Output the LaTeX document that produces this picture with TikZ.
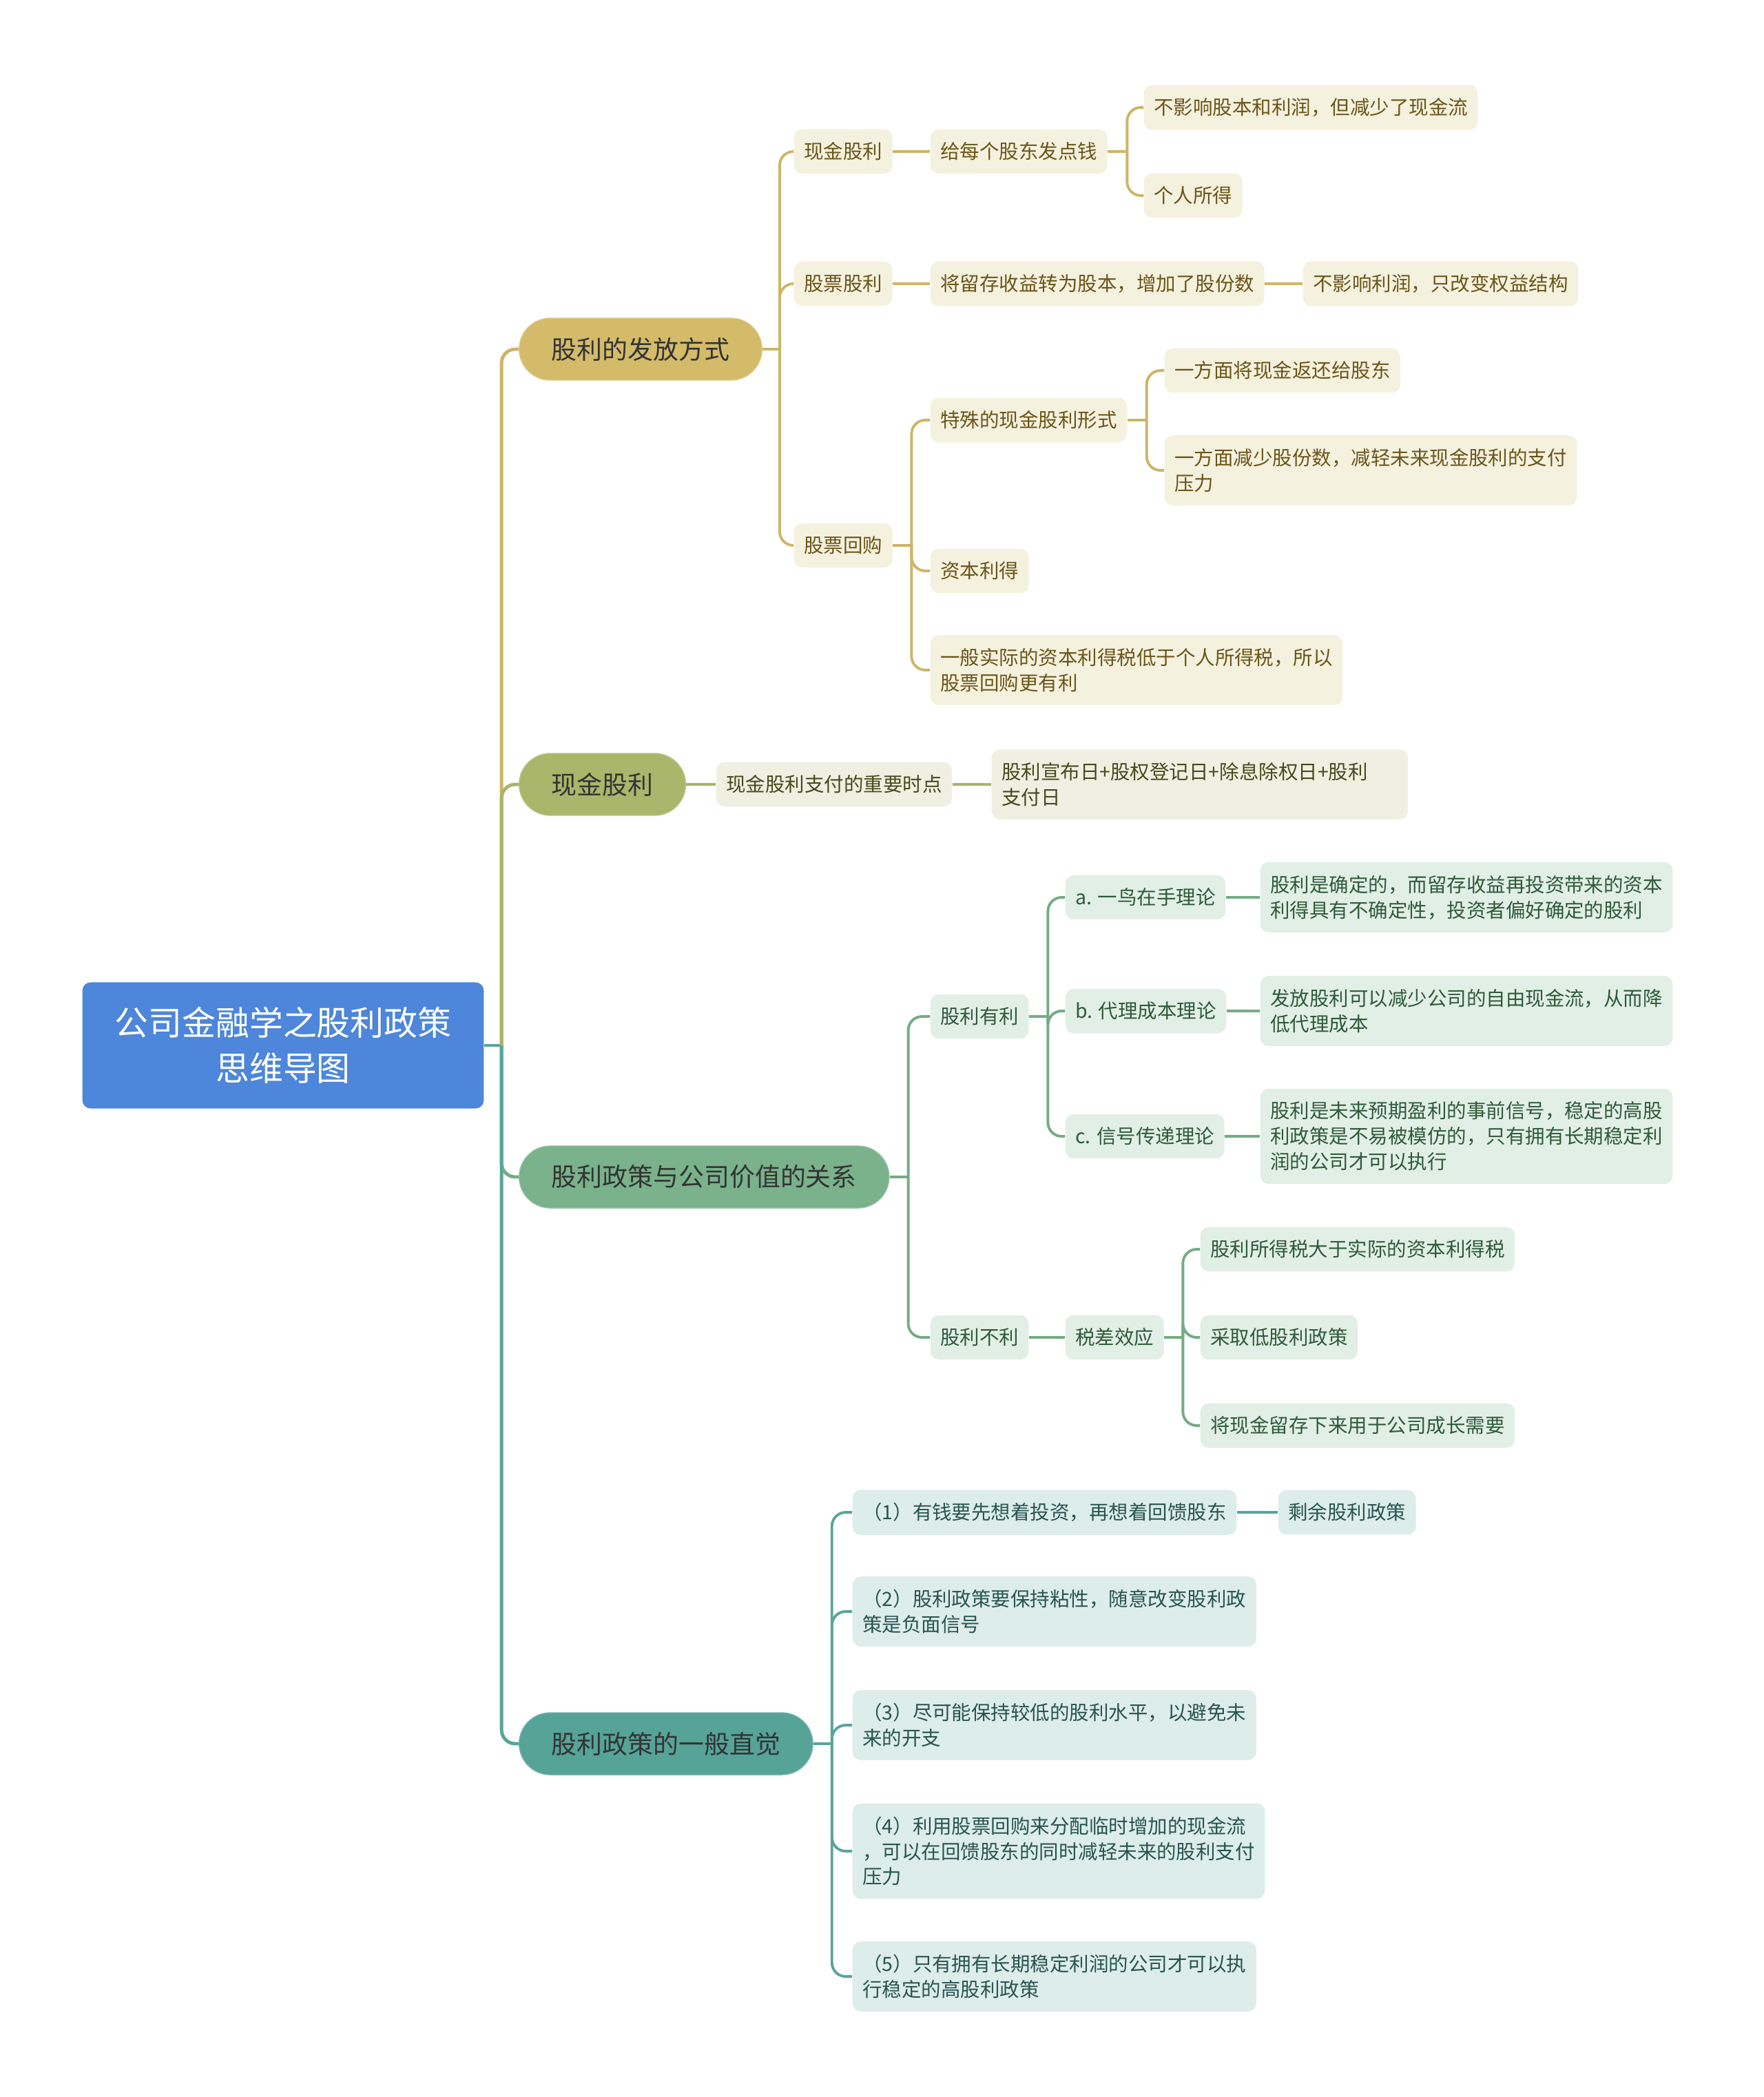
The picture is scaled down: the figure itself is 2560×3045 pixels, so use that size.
\documentclass[tikz,border=0pt]{standalone}
\usepackage{fontspec}
\setmainfont{Noto Sans CJK SC}

\definecolor{rootblue}{HTML}{4D86DA}
\definecolor{goldfill}{HTML}{D4BB6A}
\definecolor{goldline}{HTML}{CDB566}
\definecolor{goldsub}{HTML}{F5F1DF}
\definecolor{goldtext}{HTML}{6A5518}
\definecolor{olivefill}{HTML}{AAB66B}
\definecolor{oliveline}{HTML}{A8B46A}
\definecolor{olivesub}{HTML}{EFF0E2}
\definecolor{olivetext}{HTML}{454A1A}
\definecolor{greenfill}{HTML}{79B28B}
\definecolor{greenline}{HTML}{74AC85}
\definecolor{greensub}{HTML}{E2EFE6}
\definecolor{greentext}{HTML}{2E5A3A}
\definecolor{tealfill}{HTML}{56A398}
\definecolor{tealline}{HTML}{58A59A}
\definecolor{tealsub}{HTML}{DDEDEA}
\definecolor{tealtext}{HTML}{28544F}

\begin{document}
\begin{tikzpicture}[x=0.01cm,y=-0.01cm]
  \tikzstyle{root}=[fill=rootblue,text=white,rounded corners=0.12cm,align=center,
    inner xsep=0.47cm,minimum height=1.83cm,font=\fontsize{13.9}{18.8}\selectfont]
  \tikzstyle{topic}=[anchor=west,rounded corners=0.45cm,minimum height=0.9cm,
    inner xsep=0.47cm,text=black!80,font=\fontsize{10.5}{13}\selectfont]
  \tikzstyle{sub}=[anchor=west,rounded corners=0.12cm,align=left,inner xsep=0.145cm,
    inner ysep=0.19cm,font=\fontsize{8.1}{10.5}\selectfont]
  \tikzstyle{gsub}=[sub,fill=goldsub,text=goldtext]
  \tikzstyle{osub}=[sub,fill=olivesub,text=olivetext]
  \tikzstyle{esub}=[sub,fill=greensub,text=greentext]
  \tikzstyle{tsub}=[sub,fill=tealsub,text=tealtext]
  \tikzstyle{link}=[line width=1.1pt,rounded corners=0.2cm]
  \tikzstyle{trunk}=[line width=1.4pt,rounded corners=0.2cm]

  \useasboundingbox (0,0) rectangle (2560,3045);

  \node[root] (R) at (411,1518) {公司金融学之股利政策\\思维导图};

  \node[topic,fill=goldfill,draw=goldfill!80!white] (B1) at (753,507) {股利的发放方式};
  \node[topic,fill=olivefill,draw=olivefill!80!white] (B2) at (753,1139) {现金股利};
  \node[topic,fill=greenfill,draw=greenfill!80!white] (B3) at (753,1709) {股利政策与公司价值的关系};
  \node[topic,fill=tealfill,draw=tealfill!80!white] (B4) at (753,2532) {股利政策的一般直觉};

  % 股利的发放方式
  \node[gsub] (C1) at (1152,220) {现金股利};
  \node[gsub] (C1a) at (1350,220) {给每个股东发点钱};
  \node[gsub] (C1a1) at (1660,156) {不影响股本和利润，但减少了现金流};
  \node[gsub] (C1a2) at (1660,284) {个人所得};
  \node[gsub] (C2) at (1152,412) {股票股利};
  \node[gsub] (C2a) at (1350,412) {将留存收益转为股本，增加了股份数};
  \node[gsub] (C2b) at (1891,412) {不影响利润，只改变权益结构};
  \node[gsub] (C3) at (1152,792) {股票回购};
  \node[gsub] (C3a) at (1350,610) {特殊的现金股利形式};
  \node[gsub] (C3a1) at (1690,538) {一方面将现金返还给股东};
  \node[gsub] (C3a2) at (1690,683) {一方面减少股份数，减轻未来现金股利的支付\\压力};
  \node[gsub] (C3b) at (1350,829) {资本利得};
  \node[gsub] (C3c) at (1350,973) {一般实际的资本利得税低于个人所得税，所以\\股票回购更有利};

  % 现金股利
  \node[osub] (D1) at (1039,1139) {现金股利支付的重要时点};
  \node[osub,text width=5.75cm] (D2) at (1439,1139) {股利宣布日+股权登记日+除息除权日+股利\\支付日};

  % 股利政策与公司价值的关系
  \node[esub] (E1) at (1350,1476) {股利有利};
  \node[esub] (E1a) at (1546,1303) {a. 一鸟在手理论};
  \node[esub] (E1b) at (1546,1468) {b. 代理成本理论};
  \node[esub] (E1c) at (1546,1650) {c. 信号传递理论};
  \node[esub] (E1a1) at (1829,1303) {股利是确定的，而留存收益再投资带来的资本\\利得具有不确定性，投资者偏好确定的股利};
  \node[esub] (E1b1) at (1829,1468) {发放股利可以减少公司的自由现金流，从而降\\低代理成本};
  \node[esub] (E1c1) at (1829,1650) {股利是未来预期盈利的事前信号，稳定的高股\\利政策是不易被模仿的，只有拥有长期稳定利\\润的公司才可以执行};
  \node[esub] (E2) at (1350,1942) {股利不利};
  \node[esub] (E2a) at (1546,1942) {税差效应};
  \node[esub] (E2a1) at (1742,1814) {股利所得税大于实际的资本利得税};
  \node[esub] (E2a2) at (1742,1942) {采取低股利政策};
  \node[esub] (E2a3) at (1742,2070) {将现金留存下来用于公司成长需要};

  % 股利政策的一般直觉
  \node[tsub] (F1) at (1237,2196) {（1）有钱要先想着投资，再想着回馈股东};
  \node[tsub] (F1a) at (1855,2196) {剩余股利政策};
  \node[tsub] (F2) at (1237,2340) {（2）股利政策要保持粘性，随意改变股利政\\策是负面信号};
  \node[tsub] (F3) at (1237,2505) {（3）尽可能保持较低的股利水平，以避免未\\来的开支};
  \node[tsub] (F4) at (1237,2688) {（4）利用股票回购来分配临时增加的现金流\\，可以在回馈股东的同时减轻未来的股利支付\\压力};
  \node[tsub] (F5) at (1237,2870) {（5）只有拥有长期稳定利润的公司才可以执\\行稳定的高股利政策};

  % root to topics
  \draw[trunk,tealline] (R.east) -- ++(25,0) coordinate (j0);
  \draw[trunk,goldline] (j0) |- (B1.west);
  \draw[trunk,oliveline] (j0) |- (B2.west);
  \draw[trunk,greenline] (j0) |- (B3.west);
  \draw[trunk,tealline] (j0) |- (B4.west);

  % gold branch
  \draw[link,goldline] (B1.east) -- ++(25,0) coordinate (jB1);
  \foreach \n in {C1,C2,C3} \draw[link,goldline] (jB1) |- (\n.west);
  \draw[link,goldline] (C1.east) -- (C1a.west);
  \draw[link,goldline] (C1a.east) -- ++(28,0) coordinate (jC1a);
  \foreach \n in {C1a1,C1a2} \draw[link,goldline] (jC1a) |- (\n.west);
  \draw[link,goldline] (C2.east) -- (C2a.west);
  \draw[link,goldline] (C2a.east) -- (C2b.west);
  \draw[link,goldline] (C3.east) -- ++(27,0) coordinate (jC3);
  \foreach \n in {C3a,C3b,C3c} \draw[link,goldline] (jC3) |- (\n.west);
  \draw[link,goldline] (C3a.east) -- ++(28,0) coordinate (jC3a);
  \foreach \n in {C3a1,C3a2} \draw[link,goldline] (jC3a) |- (\n.west);

  % olive branch
  \draw[link,oliveline] (B2.east) -- (D1.west);
  \draw[link,oliveline] (D1.east) -- (D2.west);

  % green branch
  \draw[link,greenline] (B3.east) -- ++(27,0) coordinate (jB3);
  \foreach \n in {E1,E2} \draw[link,greenline] (jB3) |- (\n.west);
  \draw[link,greenline] (E1.east) -- ++(27,0) coordinate (jE1);
  \foreach \n in {E1a,E1b,E1c} \draw[link,greenline] (jE1) |- (\n.west);
  \draw[link,greenline] (E1a.east) -- (E1a1.west);
  \draw[link,greenline] (E1b.east) -- (E1b1.west);
  \draw[link,greenline] (E1c.east) -- (E1c1.west);
  \draw[link,greenline] (E2.east) -- (E2a.west);
  \draw[link,greenline] (E2a.east) -- ++(27,0) coordinate (jE2a);
  \foreach \n in {E2a1,E2a2,E2a3} \draw[link,greenline] (jE2a) |- (\n.west);

  % teal branch
  \draw[link,tealline] (B4.east) -- ++(27,0) coordinate (jB4);
  \foreach \n in {F1,F2,F3,F4,F5} \draw[link,tealline] (jB4) |- (\n.west);
  \draw[link,tealline] (F1.east) -- (F1a.west);
\end{tikzpicture}
\end{document}
